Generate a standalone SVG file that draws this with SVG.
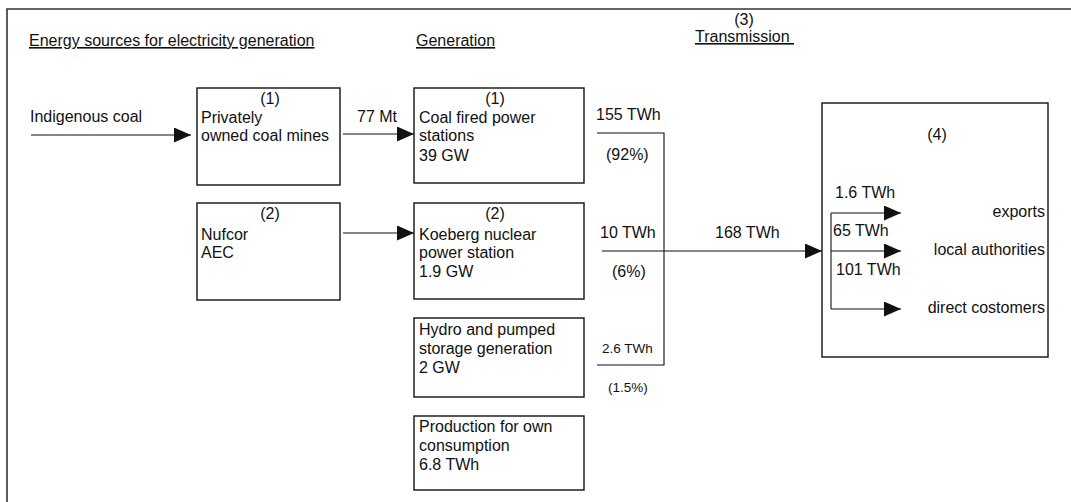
<svg xmlns="http://www.w3.org/2000/svg" width="1071" height="502" viewBox="0 0 1071 502">
<defs>
<style>
text{font-family:"Liberation Sans",Arial,sans-serif;font-size:16px;fill:#111}
.sm{font-size:13.5px}
.u{text-decoration:underline}
.box{fill:none;stroke:#111;stroke-width:1.4}
.ln{fill:none;stroke:#111;stroke-width:1.1}
.frame{fill:none;stroke:#333;stroke-width:1.6}
.mid{text-anchor:middle}
.end{text-anchor:end}
</style>
<marker id="ah" markerUnits="userSpaceOnUse" markerWidth="18" markerHeight="16" refX="17" refY="7.5" orient="auto">
<path d="M0,0 L17,7.5 L0,15 Z" fill="#111"/>
</marker>
</defs>
<rect width="1071" height="502" fill="#fff"/>
<path class="frame" d="M7,502 V9 H1071"/>
<g id="headers">
<text class="u" x="29" y="46">Energy sources for electricity generation</text>
<text class="u" x="416" y="46">Generation</text>
<text class="mid" x="744" y="25">(3)</text>
<text class="u" x="695" y="42" xml:space="preserve">Transmission </text>
</g>
<g id="connectors">
<line class="ln" x1="31" y1="135" x2="191" y2="135" marker-end="url(#ah)"/>
<line class="ln" x1="343" y1="134" x2="414" y2="134" marker-end="url(#ah)"/>
<line class="ln" x1="343" y1="233" x2="414" y2="233" marker-end="url(#ah)"/>
<path class="ln" d="M597,133 H664 V365 H597"/>
<line class="ln" x1="602" y1="251" x2="822" y2="251" marker-end="url(#ah)"/>
<path class="ln" d="M831,309 V213"/>
<line class="ln" x1="831" y1="213" x2="901" y2="213" marker-end="url(#ah)"/>
<line class="ln" x1="831" y1="251" x2="901" y2="251" marker-end="url(#ah)"/>
<line class="ln" x1="831" y1="309" x2="901" y2="309" marker-end="url(#ah)"/>
</g>
<g id="labels">
<text x="30" y="122">Indigenous coal</text>
<text x="357" y="122">77 Mt</text>
<text x="596" y="120">155 TWh</text>
<text x="606" y="160">(92%)</text>
<text x="600" y="238">10 TWh</text>
<text x="612" y="277">(6%)</text>
<text x="715" y="238">168 TWh</text>
<text class="sm" x="602" y="353">2.6 TWh</text>
<text class="sm" x="608" y="392">(1.5%)</text>
</g>
<g id="mines">
<rect class="box" x="197" y="88" width="143" height="97"/>
<text class="mid" x="270" y="104">(1)</text>
<text x="201" y="123">Privately</text>
<text x="201" y="141">owned coal mines</text>
</g>
<g id="nufcor">
<rect class="box" x="197" y="203" width="143" height="97"/>
<text class="mid" x="270" y="219">(2)</text>
<text x="201" y="240">Nufcor</text>
<text x="201" y="258">AEC</text>
</g>
<g id="coal">
<rect class="box" x="414" y="88" width="170" height="95"/>
<text class="mid" x="495" y="104">(1)</text>
<text x="419" y="123">Coal fired power</text>
<text x="419" y="141">stations</text>
<text x="419" y="161">39 GW</text>
</g>
<g id="koeberg">
<rect class="box" x="414" y="203" width="170" height="96"/>
<text class="mid" x="495" y="219">(2)</text>
<text x="419" y="240">Koeberg nuclear</text>
<text x="419" y="258">power station</text>
<text x="419" y="277">1.9 GW</text>
</g>
<g id="hydro">
<rect class="box" x="414" y="318" width="170" height="79"/>
<text x="419" y="335">Hydro and pumped</text>
<text x="419" y="354">storage generation</text>
<text x="419" y="373">2 GW</text>
</g>
<g id="own">
<rect class="box" x="414" y="416" width="170" height="74"/>
<text x="419" y="432">Production for own</text>
<text x="419" y="451">consumption</text>
<text x="419" y="470">6.8 TWh</text>
</g>
<g id="distribution">
<rect class="box" x="822" y="103" width="226" height="254"/>
<text class="mid" x="937" y="140">(4)</text>
<text x="835" y="198">1.6 TWh</text>
<text x="833" y="236">65 TWh</text>
<text x="836" y="275">101 TWh</text>
<text class="end" x="1045" y="217">exports</text>
<text class="end" x="1045" y="255">local authorities</text>
<text class="end" x="1045" y="313">direct costomers</text>
</g>
</svg>
